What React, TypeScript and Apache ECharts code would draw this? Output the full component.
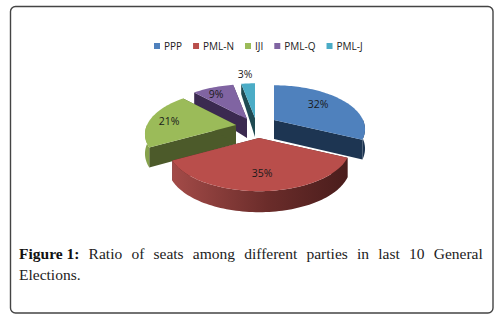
import React, { useEffect, useRef } from "react";
import * as echarts from "echarts";

const parties = ["PPP", "PML-N", "IJI", "PML-Q", "PML-J"];
const seats = [32, 35, 21, 9, 3];
const captionLabel = "Figure 1:";
const captionFirstLine = ["Ratio", "of", "seats", "among", "different", "parties", "in", "last", "10", "General"];
const captionSecondLine = "Elections.";

// Presentation only (not data)
const topColors = ["#4f81bd", "#b94e4b", "#9bbb59", "#8064a2", "#4bacc6"];
const cutColors = ["#1d3552", "#4d1f1e", "#4c5a2a", "#3b2a50", "#1f4a52"];
const apexes = [[274, 120], [259, 138], [236, 125], [247, 119], [255, 118]];
const labelSpots = [[318, 104], [262, 173], [169, 121], [216, 94], [245, 74]];
const paintOrder = [4, 3, 0, 2, 1];
const RX = 89, RY = 42, PERSPECTIVE = 0.21;

const total = seats.reduce((a, b) => a + b, 0);

function rim(apex: number[], theta: number) {
  const u = Math.sin(theta), v = -Math.cos(theta);
  const s = 1 / (1 - PERSPECTIVE * v);
  return { x: apex[0] + RX * u * s, y: apex[1] + RY * v * s, v };
}
function depth(v: number) {
  return v < 0 ? 19 + 9 * v : 19 + 2 * v;
}
const drop = (p: { x: number; y: number; v: number }) => [p.x, p.y + depth(p.v)];

function makeRenderItem(index: number) {
  return (_params: any, api: any) => {
    const value = api.value(0);
    const before = seats.slice(0, index).reduce((a, b) => a + b, 0);
    const a0 = (before / total) * Math.PI * 2;
    const a1 = a0 + (value / total) * Math.PI * 2;
    const apex = apexes[index];
    const arc: { x: number; y: number; v: number }[] = [];
    const steps = Math.max(4, Math.ceil((a1 - a0) / 0.03));
    for (let i = 0; i <= steps; i++) arc.push(rim(apex, a0 + ((a1 - a0) * i) / steps));
    const first = arc[0], last = arc[arc.length - 1];
    const apexPt = { x: apex[0], y: apex[1], v: 0 };
    const children: any[] = [];
    const face = (a: any, b: any) => ({
      type: "polygon",
      shape: { points: [[a.x, a.y], [b.x, b.y], drop(b), drop(a)] },
      style: { fill: cutColors[index] },
    });
    children.push(face(apexPt, first), face(apexPt, last));
    const front = arc.filter((p) => p.v > -0.03);
    if (front.length > 1) {
      const upper = front.map((p) => [p.x, p.y]);
      const lower = front.map(drop).reverse();
      let fill: any = cutColors[index];
      if (index === 1) {
        fill = new echarts.graphic.LinearGradient(0, 0, 1, 0, [
          { offset: 0, color: "#a34b48" },
          { offset: 0.55, color: "#6a2c2a" },
          { offset: 1, color: "#4a1d1c" },
        ]);
      } else if (index === 2) {
        fill = "#86a24c";
      }
      children.push({ type: "polygon", shape: { points: upper.concat(lower) }, style: { fill } });
    }
    children.push({
      type: "polygon",
      shape: { points: [[apex[0], apex[1]], ...arc.map((p) => [p.x, p.y])] },
      style: { fill: topColors[index] },
    });
    children.push({
      type: "text",
      style: {
        text: Math.round((value / total) * 100) + "%",
        x: labelSpots[index][0],
        y: labelSpots[index][1],
        align: "center",
        verticalAlign: "middle",
        fill: "#1a1a1a",
        font: '10.5px "Open Sans", sans-serif',
      },
    });
    return { type: "group", children };
  };
}

export default function App() {
  const ref = useRef<HTMLDivElement>(null);
  useEffect(() => {
    document.body.style.margin = "0";
    const chart = echarts.init(ref.current!, undefined, { renderer: "svg" });
    const serif = '"Liberation Serif", serif';
    chart.setOption({
      animation: false,
      backgroundColor: "#ffffff",
      legend: {
        data: parties,
        left: 149,
        top: 36,
        icon: "rect",
        itemWidth: 6,
        itemHeight: 6,
        itemGap: 11,
        textStyle: { fontFamily: '"Open Sans", sans-serif', fontSize: 10, color: "#222", padding: [0, 0, 0, -1] },
      },
      title: {
        left: 14,
        top: 238,
        text:
          `{b|${captionLabel}}{s| }` +
          captionFirstLine.map((w) => `{n|${w}}`).join("{s| }") +
          `\n{n|${captionSecondLine}}`,
        textStyle: {
          rich: {
            b: { fontFamily: serif, fontSize: 15.5, fontWeight: "bold", color: "#111", lineHeight: 21 },
            n: { fontFamily: serif, fontSize: 15.5, fontWeight: "normal", color: "#222", lineHeight: 21 },
            s: { fontFamily: serif, fontSize: 15.5, fontWeight: "normal", width: 9.2, lineHeight: 21 },
          },
        },
      },
      graphic: [
        {
          type: "rect",
          shape: { x: 10.5, y: 6.5, width: 482.5, height: 306.5, r: 5 },
          style: { fill: "none", stroke: "#444", lineWidth: 1.4 },
          silent: true,
        },
      ],
      series: paintOrder.map((i, order) => ({
        type: "custom",
        name: parties[i],
        coordinateSystem: "none",
        z: 2 + order,
        itemStyle: { color: topColors[i] },
        data: [[seats[i]]],
        renderItem: makeRenderItem(i),
      })),
    });
    return () => chart.dispose();
  }, []);
  return <div ref={ref} style={{ position: "absolute", left: 0, top: 0, width: 502, height: 321 }} />;
}
